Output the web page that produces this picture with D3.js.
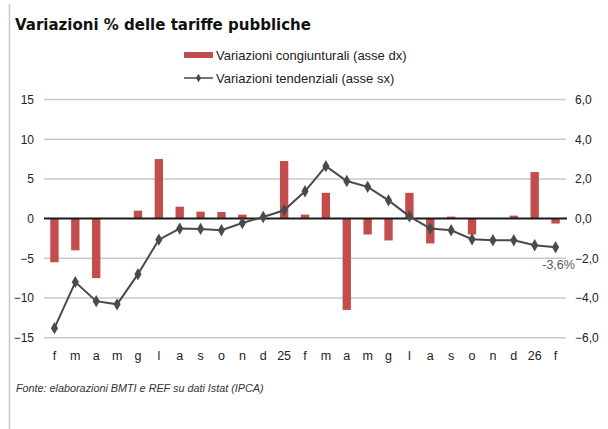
<!DOCTYPE html>
<html>
<head>
<meta charset="utf-8">
<script src="https://cdn.jsdelivr.net/npm/d3@7"></script>
<style>
  body { margin: 0; background: #fff; }
  svg { font-family: "Liberation Sans", Arial, sans-serif; }
</style>
</head>
<body>
<div id="chart"></div>
<script>
// Chart size
const width = 608;
const height = 429;
const margin = {left: 44, right: 42, top: 99.5, bottom: 91.3};

// Data
const months = ["f","m","a","m","g","l","a","s","o","n","d","25",
                "f","m","a","m","g","l","a","s","o","n","d","26","f"];
// monthly changes, right axis (bars)
const congiunturali = [-2.2, -1.6, -3.0, 0, 0.4, 3.0, 0.6, 0.35, 0.33, 0.2, 0, 2.9,
                       0.2, 1.3, -4.6, -0.8, -1.1, 1.3, -1.25, 0.1, -0.8, 0, 0.15, 2.35, -0.25];
// yearly changes, left axis (line)
const tendenziali = [-13.8, -8.0, -10.4, -10.8, -7.0, -2.65, -1.26, -1.3, -1.47, -0.55, 0.2, 1.05,
                     3.44, 6.6, 4.74, 4.0, 2.3, 0.29, -1.26, -1.47, -2.6, -2.73, -2.73, -3.36, -3.6];
const leftTicks = [15, 10, 5, 0, -5, -10, -15];
const rightTicks = [6, 4, 2, 0, -2, -4, -6];

const svg = d3.select("#chart")
  .append("svg")
  .attr("width", width)
  .attr("height", height);

// frame line on the left
svg.append("line")
  .attr("x1", 9.5).attr("x2", 9.5)
  .attr("y1", 4).attr("y2", height)
  .attr("stroke", "#c8c8c8").attr("stroke-width", 1.5);

// title
svg.append("text")
  .attr("x", 15).attr("y", 30)
  .attr("font-family", "DejaVu Sans, sans-serif")
  .attr("font-size", "15px").attr("font-weight", "bold")
  .attr("fill", "#111")
  .text("Variazioni % delle tariffe pubbliche");

// scales
const x = d3.scaleBand()
  .domain(d3.range(months.length))
  .range([margin.left, width - margin.right])
  .paddingInner(0.6)
  .paddingOuter(0.3);

const yLeft = d3.scaleLinear()
  .domain([-15, 15])
  .range([height - margin.bottom, margin.top]);

const yRight = d3.scaleLinear()
  .domain([-6, 6])
  .range(yLeft.range());

// gridlines
svg.append("g")
  .selectAll("line")
  .data(leftTicks.filter(d => d !== 0))
  .enter()
  .append("line")
    .attr("x1", margin.left).attr("x2", width - margin.right)
    .attr("y1", d => yLeft(d)).attr("y2", d => yLeft(d))
    .attr("stroke", "#c9c9c9").attr("stroke-width", 1.5);

// left axis
const leftAxis = svg.append("g")
  .attr("transform", `translate(${margin.left}, 0)`)
  .call(d3.axisLeft(yLeft).tickValues(leftTicks).tickSize(0).tickPadding(10));
leftAxis.select(".domain").remove();
leftAxis.selectAll("text").attr("font-size", "12px").attr("fill", "#222")
  .attr("font-family", "Liberation Sans, Arial, sans-serif");

// right axis
const rightAxis = svg.append("g")
  .attr("transform", `translate(${width - margin.right}, 0)`)
  .call(d3.axisRight(yRight).tickValues(rightTicks).tickSize(0).tickPadding(9)
        .tickFormat(d => d3.format(".1f")(d).replace(".", ",")));
rightAxis.select(".domain").remove();
rightAxis.selectAll("text").attr("font-size", "12px").attr("fill", "#222")
  .attr("font-family", "Liberation Sans, Arial, sans-serif");

// bars (right axis)
svg.selectAll(".bar")
  .data(congiunturali)
  .enter()
  .append("rect")
    .attr("class", "bar")
    .attr("x", (d, i) => x(i))
    .attr("y", d => yRight(Math.max(0, d)))
    .attr("width", x.bandwidth())
    .attr("height", d => Math.abs(yRight(d) - yRight(0)))
    .attr("fill", "#c34d4d");

// zero line
svg.append("line")
  .attr("x1", margin.left).attr("x2", width - margin.right + 1)
  .attr("y1", yLeft(0)).attr("y2", yLeft(0))
  .attr("stroke", "#1a1a1a").attr("stroke-width", 2);

// line (left axis)
const line = d3.line()
  .x((d, i) => x(i) + x.bandwidth() / 2)
  .y(d => yLeft(d));

svg.append("path")
  .datum(tendenziali)
  .attr("d", line)
  .attr("fill", "none")
  .attr("stroke", "#4a4a4a")
  .attr("stroke-width", 2);

svg.selectAll(".marker")
  .data(tendenziali)
  .enter()
  .append("path")
    .attr("class", "marker")
    .attr("d", d3.symbol(d3.symbolDiamond, 44))
    .attr("transform", (d, i) => `translate(${x(i) + x.bandwidth() / 2},${yLeft(d)})`)
    .attr("fill", "#4a4a4a");

// last value label
const last = tendenziali.length - 1;
svg.append("text")
  .attr("x", x(last) + x.bandwidth() / 2 + 3)
  .attr("y", yLeft(tendenziali[last]) + 22)
  .attr("text-anchor", "middle")
  .attr("font-size", "12.5px")
  .attr("fill", "#595959")
  .text(d3.format(".1f")(tendenziali[last]).replace(".", ",").replace("−", "-") + "%");

// x axis labels
const xAxis = svg.append("g")
  .attr("transform", `translate(0, ${yLeft(-15) + 5})`)
  .call(d3.axisBottom(x).tickSize(0).tickPadding(8).tickFormat(i => months[i]));
xAxis.select(".domain").remove();
xAxis.selectAll("text").attr("font-size", "12.5px").attr("fill", "#222")
  .attr("font-family", "Liberation Sans, Arial, sans-serif");

// legend
const legend = svg.append("g").attr("font-size", "13px").attr("fill", "#222");
legend.append("rect")
  .attr("x", 184).attr("y", 52).attr("width", 29).attr("height", 6)
  .attr("fill", "#c34d4d");
legend.append("text")
  .attr("x", 216).attr("y", 59.5)
  .text("Variazioni congiunturali (asse dx)");
legend.append("line")
  .attr("x1", 184).attr("x2", 213).attr("y1", 78).attr("y2", 78)
  .attr("stroke", "#4a4a4a").attr("stroke-width", 1.5);
legend.append("path")
  .attr("d", d3.symbol(d3.symbolDiamond, 22))
  .attr("transform", "translate(198.5,78)")
  .attr("fill", "#4a4a4a");
legend.append("text")
  .attr("x", 216).attr("y", 82.5)
  .text("Variazioni tendenziali (asse sx)");

// source note
svg.append("text")
  .attr("x", 16).attr("y", 392)
  .attr("font-size", "10.8px").attr("font-style", "italic")
  .attr("fill", "#333")
  .text("Fonte: elaborazioni BMTI e REF su dati Istat (IPCA)");
</script>
</body>
</html>
